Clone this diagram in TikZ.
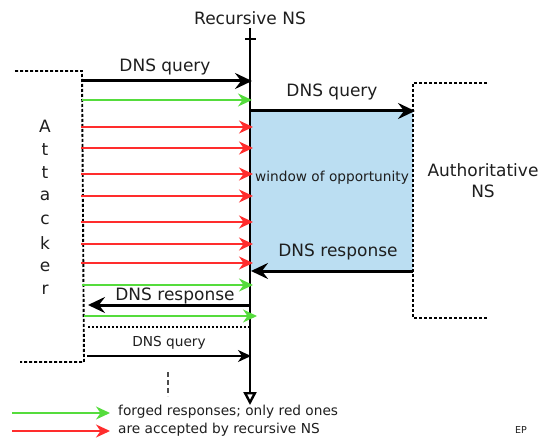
\documentclass[tikz,border=0pt]{standalone}
\usepackage{fontspec}
\setmainfont{DejaVu Sans}
\usetikzlibrary{arrows.meta}
\definecolor{winblue}{RGB}{187,222,242}
\definecolor{fgreen}{RGB}{85,220,60}
\definecolor{fred}{RGB}{255,45,45}
\definecolor{txt}{RGB}{30,30,30}
\tikzset{
  bigtxt/.style={font=\fontsize{17}{20}\selectfont, text=txt, inner sep=0pt},
  smalltxt/.style={font=\fontsize{13.7}{16}\selectfont, text=txt, inner sep=0pt},
  tinytxt/.style={font=\fontsize{9.5}{11}\selectfont, text=txt, inner sep=0pt},
  blackarrow/.style={line width=3pt, -{Stealth[length=17pt,width=16pt,inset=6pt]}},
  thinarrow/.style={line width=1.5pt, -{Stealth[length=13pt,width=12pt,inset=4pt]}},
  greenarrow/.style={draw=fgreen, line width=1.6pt, -{Stealth[length=14pt,width=13pt,inset=4.5pt]}},
  redarrow/.style={draw=fred, line width=1.6pt, -{Stealth[length=14pt,width=13pt,inset=4.5pt]}},
  boundary/.style={line width=1.9pt, dash pattern=on 3pt off 2pt},
  axisline/.style={line width=2.4pt},
}
\begin{document}
\begin{tikzpicture}[x=1pt,y=-1pt]
\path[use as bounding box] (0,0) rectangle (548,438);

% window of opportunity
\fill[winblue] (250,111) rectangle (413,271);

% coordinates
\coordinate (axtop) at (250,28);
\coordinate (axbot) at (250,405);
\coordinate (tickL) at (245,39);
\coordinate (tickR) at (256,39);
\coordinate (atl) at (15,71);
\coordinate (atc) at (82,71);
\coordinate (abc) at (84,362);
\coordinate (abl) at (20,362);
\coordinate (au1) at (487,83);
\coordinate (au2) at (413,83);
\coordinate (au3) at (413,318);
\coordinate (au4) at (487,318);

% axis
\draw[axisline, -{Triangle[open, length=13pt, width=13pt]}] (axtop) -- (axbot);
\draw[line width=1.8pt] (tickL) -- (tickR);
\node[bigtxt] (recns) at (250,18) {Recursive NS};

% attacker boundary
\draw[boundary] (atl) -- (atc) -- (abc) -- (abl);
\foreach \ch [count=\i from 0] in {A,t,t,a,c,k,e,r}
  \node[bigtxt] (att\i) at (45,{126+23.4*\i}) {\ch};

% authoritative boundary
\draw[boundary] (au1) -- (au2) -- (au3) -- (au4);
\node[bigtxt, align=center] (authns) at (483,181) {Authoritative\\[1pt]NS};

% main DNS query from attacker
\coordinate (q1s) at (82,81);
\coordinate (q1e) at (252,81);
\draw[blackarrow] (q1s) -- (q1e);
\node[bigtxt] (q1lab) at (165,67) {DNS query};

% recursive query to authoritative
\coordinate (q2s) at (250,111);
\coordinate (q2e) at (415,111);
\draw[blackarrow] (q2s) -- (q2e);
\node[bigtxt] (q2lab) at (332,92) {DNS query};

\node[smalltxt] (window) at (332,178) {window of opportunity};

% authoritative response
\coordinate (r1s) at (413,271);
\coordinate (r1e) at (251,271);
\draw[blackarrow] (r1s) -- (r1e);
\node[bigtxt] (r1lab) at (338,252) {DNS response};

% forged responses
\coordinate (g1s) at (82,100);   \coordinate (g1e) at (252,100);
\draw[greenarrow] (g1s) -- (g1e);
\foreach \yy [count=\i] in {127,148,174,196,222,244,263} {
  \coordinate (rs\i) at (81,\yy);
  \coordinate (re\i) at (253,\yy);
  \draw[redarrow] (rs\i) -- (re\i);
}
\coordinate (g2s) at (82,285);   \coordinate (g2e) at (253,285);
\draw[greenarrow] (g2s) -- (g2e);

% response to attacker
\coordinate (r2s) at (250,305);
\coordinate (r2e) at (88,305);
\draw[blackarrow] (r2s) -- (r2e);
\node[bigtxt] (r2lab) at (175,296) {DNS response};

\coordinate (g3s) at (84,316);   \coordinate (g3e) at (257,316);
\draw[greenarrow] (g3s) -- (g3e);

% separator
\coordinate (sepL) at (88,327);
\coordinate (sepR) at (250,327);
\draw[line width=1.6pt, dash pattern=on 2pt off 2pt] (sepL) -- (sepR);

% next query
\node[smalltxt] (q3lab) at (169,343) {DNS query};
\coordinate (q3s) at (87,356);
\coordinate (q3e) at (251,356);
\draw[thinarrow] (q3s) -- (q3e);

% continuation
\coordinate (c1) at (168,372);
\coordinate (c2) at (168,396);
\draw[line width=1.3pt, dash pattern=on 5pt off 3pt, draw=black!70] (c1) -- (c2);

% legend
\coordinate (lg1s) at (12,413); \coordinate (lg1e) at (110,413);
\coordinate (lr1s) at (12,431); \coordinate (lr1e) at (110,431);
\draw[greenarrow] (lg1s) -- (lg1e);
\draw[redarrow] (lr1s) -- (lr1e);
\node[smalltxt, anchor=west] (leg1) at (118,412) {forged responses; only red ones};
\node[smalltxt, anchor=west] (leg2) at (118,430) {are accepted by recursive NS};

\node[tinytxt] (ep) at (521,430) {EP};
\end{tikzpicture}
\end{document}
